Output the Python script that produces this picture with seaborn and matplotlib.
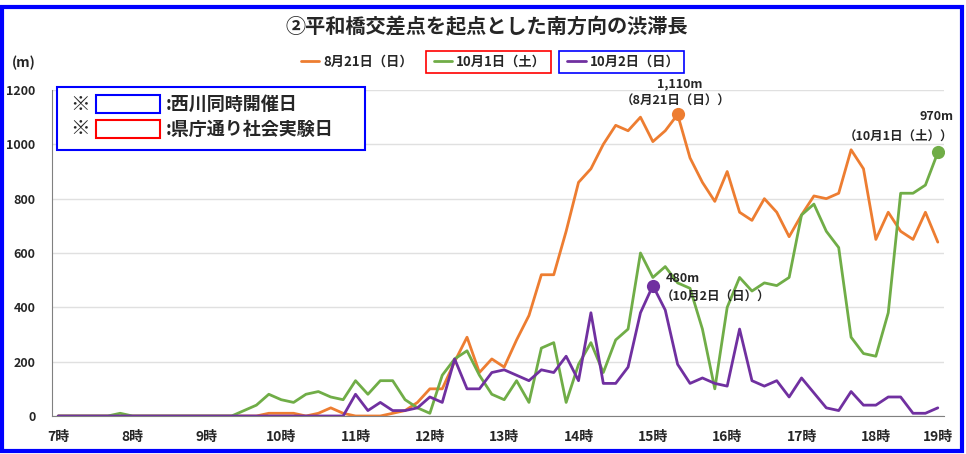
import numpy as np
import pandas as pd
import seaborn as sns
import matplotlib.pyplot as plt
from matplotlib.patches import Rectangle
from matplotlib.lines import Line2D

sns.set_style("white")
plt.rcParams['font.family'] = ['Noto Sans CJK JP', 'DejaVu Sans']

# 10-minute steps from 7:00, 72 points
hour_labels = ['7時', '8時', '9時', '10時', '11時', '12時', '13時',
               '14時', '15時', '16時', '17時', '18時', '19時']
hour_pos = [0, 6, 12, 18, 24, 30, 36, 42, 48, 54, 60, 66, 71]

aug21 = [0]*17 + [10, 10, 10, 0, 10, 30, 10, 0, 0, 0, 10, 20, 50, 100, 100, 200,
                  290, 160, 210, 180, 280, 370, 520, 520, 680, 860, 910, 1000, 1070,
                  1050, 1100, 1010, 1050, 1110, 950, 860, 790, 900, 750, 720, 800,
                  750, 660, 740, 810, 800, 820, 980, 910, 650, 750, 680, 650, 750, 640]
oct1 = [0, 0, 0, 0, 0, 10] + [0]*9 + [20, 40, 80, 60, 50, 80, 90, 70, 60, 130, 80,
                                      130, 130, 60, 30, 10, 150, 210, 240, 150, 80, 60,
                                      130, 50, 250, 270, 50, 190, 270, 160, 280, 320, 600,
                                      510, 550, 490, 470, 320, 100, 400, 510, 460, 490, 480,
                                      510, 740, 780, 680, 620, 290, 230, 220, 380, 820, 820,
                                      850, 970]
oct2 = [0]*24 + [80, 20, 50, 20, 20, 30, 70, 50, 210, 100, 100, 160, 170, 150, 130,
                 170, 160, 220, 130, 380, 120, 120, 180, 380, 480, 390, 190, 120, 140,
                 120, 110, 320, 130, 110, 130, 70, 140, 85, 30, 20, 90, 40, 40, 70, 70,
                 10, 10, 30]

series_names = ['8月21日（日）', '10月1日（土）', '10月2日（日）']
colors = ['#ED7D31', '#70AD47', '#7030A0']

df = pd.DataFrame({
    'idx': np.tile(np.arange(len(aug21)), 3),
    'value': aug21 + oct1 + oct2,
    'series': np.repeat(series_names, len(aug21)),
})

W, H = 966, 454
fig = plt.figure(figsize=(W/100, H/100), dpi=100)

def fx(x):
    return x / W

def fy(y):
    return 1 - y / H

ax = fig.add_axes([fx(52), fy(416), fx(944) - fx(52), fy(90) - fy(416)])
sns.lineplot(data=df, x='idx', y='value', hue='series', palette=colors,
             linewidth=2, ax=ax, legend=False)

# peak markers
peaks = [(aug21, 0), (oct1, 1), (oct2, 2)]
for vals, k in peaks:
    j = int(np.argmax(vals)) if k != 1 else len(vals) - 1
    ax.scatter([j], [vals[j]], s=90, color=colors[k], zorder=5, linewidths=0)

ax.set_xlim(-0.5, len(aug21) - 0.5)
ax.set_ylim(0, 1200)
ax.set_yticks(np.arange(0, 1201, 200))
ax.set_xticks(hour_pos)
ax.set_xticklabels(hour_labels, fontsize=10, fontweight='bold')
ax.set_xticks(np.arange(-0.5, len(aug21), 1), minor=True)
ax.tick_params(axis='x', which='major', length=0, pad=10)
ax.tick_params(axis='x', which='minor', length=4, width=0.8, color='#808080')
ax.tick_params(axis='y', length=4, width=0.8, color='#808080', pad=8, labelsize=9)
for t in ax.get_yticklabels():
    t.set_fontweight('bold')
ax.set_xlabel('')
ax.set_ylabel('')
ax.grid(axis='y', color='#E0E0E0', linewidth=1)
for s in ['top', 'right']:
    ax.spines[s].set_visible(False)
for s in ['left', 'bottom']:
    ax.spines[s].set_color('#808080')
    ax.spines[s].set_linewidth(0.8)

# title and unit
fig.text(fx(487), fy(27), '②平和橋交差点を起点とした南方向の渋滞長', ha='center', va='center',
         fontsize=14.5, fontweight='bold')
fig.text(fx(12), fy(63), '(m)', ha='left', va='center', fontsize=10, fontweight='bold')

# legend
handles = [Line2D([], [], color=c, linewidth=2) for c in colors]
leg = fig.legend(handles, series_names, loc='center', bbox_to_anchor=(fx(490), fy(62)),
                 ncol=3, frameon=False, handlelength=1.4, handletextpad=0.3,
                 columnspacing=1.6, prop={'size': 9.5, 'weight': 'bold'})
fig.canvas.draw()
inv = fig.transFigure.inverted()
for k, ec in [(1, 'red'), (2, 'blue')]:
    hb = leg.legend_handles[k].get_window_extent()
    tb = leg.get_texts()[k].get_window_extent()
    x0, x1 = hb.x0 - 8, tb.x1 + 5
    y0, y1 = tb.y0 - 4, tb.y1 + 4
    (a0, b0), (a1, b1) = inv.transform([(x0, y0), (x1, y1)])
    fig.patches.append(Rectangle((a0, b0), a1 - a0, b1 - b0, transform=fig.transFigure,
                                 fill=False, edgecolor=ec, linewidth=1.2))

# note box
fig.patches.append(Rectangle((fx(57), fy(150)), fx(365) - fx(57), fy(87) - fy(150),
                             transform=fig.transFigure, facecolor='white',
                             edgecolor='blue', linewidth=1.5, zorder=3))
for yy, ec, txt in [(104, 'blue', ':西川同時開催日'), (129, 'red', ':県庁通り社会実験日')]:
    fig.text(fx(70), fy(yy), '※', ha='left', va='center', fontsize=14,
             fontweight='heavy', zorder=4)
    fig.patches.append(Rectangle((fx(96), fy(yy + 9)), fx(160) - fx(96), fy(yy - 9) - fy(yy + 9),
                                 transform=fig.transFigure, fill=False,
                                 edgecolor=ec, linewidth=1.5, zorder=4))
    fig.text(fx(166), fy(yy), txt, ha='left', va='center', fontsize=13,
             fontweight='bold', zorder=4)

# peak annotations
fs = 9
fig.text(fx(680), fy(84), '1,110m', ha='center', va='center', fontsize=fs, fontweight='bold')
fig.text(fx(676), fy(101), '（8月21日（日））', ha='center', va='center', fontsize=fs,
         fontweight='bold')
fig.text(fx(953), fy(117), '970m', ha='right', va='center', fontsize=fs, fontweight='bold')
fig.text(fx(953), fy(136), '（10月1日（土））', ha='right', va='center', fontsize=fs,
         fontweight='bold')
fig.text(fx(666), fy(279), '480m', ha='left', va='center', fontsize=fs, fontweight='bold')
fig.text(fx(661), fy(297), '（10月2日（日））', ha='left', va='center', fontsize=fs,
         fontweight='bold')

# outer blue frame
fig.patches.append(Rectangle((fx(2), fy(451)), fx(962) - fx(2), fy(7) - fy(451),
                             transform=fig.transFigure, fill=False,
                             edgecolor='blue', linewidth=3))

fig.savefig('out.png', dpi=100)
